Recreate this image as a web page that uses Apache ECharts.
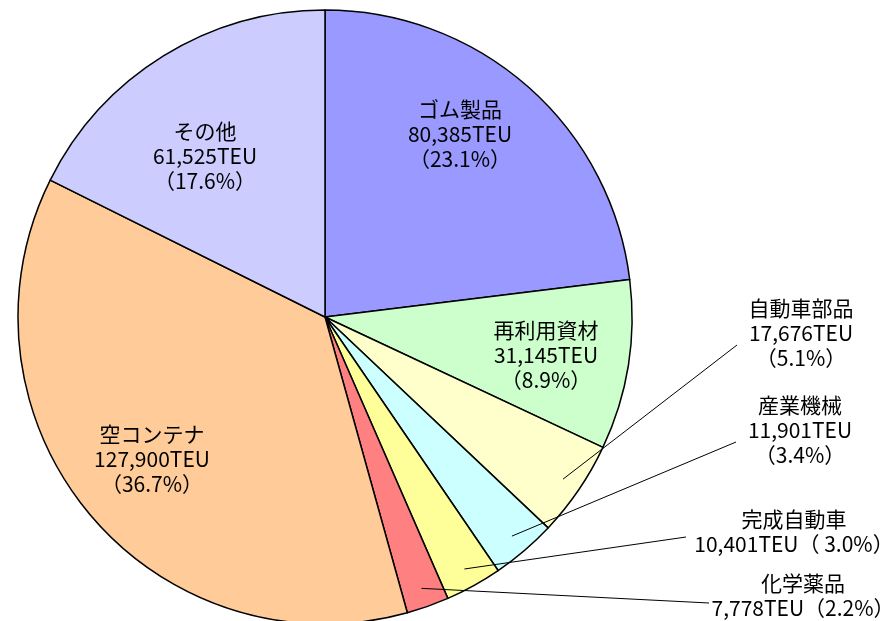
<!DOCTYPE html>
<html>
<head>
<meta charset="utf-8">
<script src="https://cdn.jsdelivr.net/npm/echarts@6/dist/echarts.min.js"></script>
<style>
  html, body { margin: 0; padding: 0; background: #fff; }
  #chart { width: 889px; height: 621px; }
</style>
</head>
<body>
<div id="chart"></div>
<script>
// 品目別 取扱量（TEU）
var categories = ['ゴム製品', '再利用資材', '自動車部品', '産業機械', '完成自動車', '化学薬品', '空コンテナ', 'その他'];
var teu = [80385, 31145, 17676, 11901, 10401, 7778, 127900, 61525];
// text between TEU and the percentage
var pctOpen = ['\n（', '\n（', '\n（', '\n（', '（ ', '（', '\n（', '\n（'];

// styles
var colors = ['#9999FF', '#CCFFCC', '#FFFFCC', '#CCFFFF', '#FFFF99', '#FF8080', '#FFCC99', '#CCCCFF'];
var pieCenter = [325, 317];
var pieRadius = 307;
var lineStartR = 288;   // 引き出し線はスライスの内側から
// label block centres
var labelPos = {
    0: [460, 134], 1: [546, 355], 6: [152, 459], 7: [205, 156],
    2: [801, 333], 3: [800, 430], 4: [794, 532], 5: [803, 596]
};
// leader line ends (next to the outside labels)
var lineEnd = { 2: [737, 345], 3: [736, 442], 4: [686, 537], 5: [709, 603] };
var font = '"Noto Sans CJK JP", "Noto Sans CJK SC", sans-serif';

var myChart = echarts.init(document.getElementById('chart'));

function fmt(p) {
    return p.name + '\n' + echarts.format.addCommas(p.value) + 'TEU' +
        pctOpen[p.dataIndex] + p.percent.toFixed(1) + '%）';
}

var pieData = categories.map(function (name, i) {
    return {
        name: name,
        value: teu[i],
        itemStyle: { color: colors[i] }
    };
});

var option = {
    backgroundColor: '#fff',
    animation: false,
    series: [
        {
            name: '取扱量',
            type: 'pie',
            center: pieCenter,
            radius: pieRadius,
            startAngle: 90,
            clockwise: true,
            percentPrecision: 1,
            avoidLabelOverlap: false,
            itemStyle: {
                borderColor: '#000',
                borderWidth: 1.5
            },
            emphasis: { disabled: true },
            label: {
                position: 'inside',
                formatter: fmt,
                fontFamily: font,
                fontSize: 21,
                lineHeight: 25,
                color: '#000'
            },
            labelLine: { show: false },
            labelLayout: function (p) {
                var pos = labelPos[p.dataIndex];
                return { x: pos[0], y: pos[1], align: 'center', verticalAlign: 'middle' };
            },
            data: pieData
        }
    ]
};
myChart.setOption(option);

// leader lines: start on each slice's mid angle, taken from the pie layout
var sliceData = myChart.getModel().getSeriesByIndex(0).getData();
var leaders = [];
Object.keys(lineEnd).forEach(function (k) {
    var i = +k;
    var lay = sliceData.getItemLayout(i);
    var mid = (lay.startAngle + lay.endAngle) / 2;
    leaders.push({
        type: 'line',
        z: 100,
        silent: true,
        shape: {
            x1: lay.cx + lineStartR * Math.cos(mid),
            y1: lay.cy + lineStartR * Math.sin(mid),
            x2: lineEnd[i][0],
            y2: lineEnd[i][1]
        },
        style: { stroke: '#000', lineWidth: 1 }
    });
});
myChart.setOption({ graphic: { elements: leaders } });
</script>
</body>
</html>
